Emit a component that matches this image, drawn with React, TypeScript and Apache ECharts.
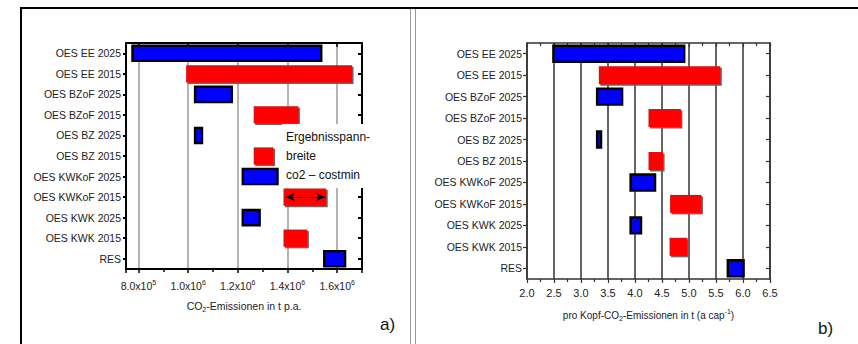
import React, { useEffect, useRef } from 'react';
import * as echarts from 'echarts';

const categories = [
  'OES EE 2025',
  'OES EE 2015',
  'OES BZoF 2025',
  'OES BZoF 2015',
  'OES BZ 2025',
  'OES BZ 2015',
  'OES KWKoF 2025',
  'OES KWKoF 2015',
  'OES KWK 2025',
  'OES KWK 2015',
  'RES',
];

// a) total CO2 emissions, t p.a. (range low..high)
const totalLow = [772000, 992000, 1024000, 1264000, 1024000, 1264000, 1216000, 1384000, 1216000, 1384000, 1544000];
const totalHigh = [1540000, 1660000, 1180000, 1444000, 1060000, 1344000, 1364000, 1556000, 1292000, 1480000, 1636000];

// b) per-capita CO2 emissions, t (a cap^-1)
const perCapLow = [2.47, 3.33, 3.28, 4.25, 3.28, 4.25, 3.9, 4.65, 3.9, 4.64, 5.7];
const perCapHigh = [4.93, 5.58, 3.78, 4.85, 3.39, 4.52, 4.39, 5.23, 4.13, 4.97, 6.03];

// annotation arrow (range width) in panel a)
const arrowCategory = 'OES KWKoF 2015';
const arrowFrom = 1392000;
const arrowTo = 1552000;

const annotationLines = ['Ergebnisspann-', 'breite', 'co2 \u2013 costmin'];

const SANS = "'Liberation Sans', Arial, sans-serif";

const renderBar = (params: any, api: any) => {
  const idx = api.value(0);
  const lo = api.coord([api.value(1), idx]);
  const hi = api.coord([api.value(2), idx]);
  const h = api.size([0, 1])[1] * 0.84;
  const red = categories[idx].includes('2015');
  const x = lo[0];
  const w = hi[0] - lo[0];
  const y = lo[1] - h / 2;
  if (red) {
    return {
      type: 'group',
      children: [
        { type: 'rect', shape: { x: x + 1.5, y: y + 1.5, width: w, height: h }, style: { fill: '#666' } },
        { type: 'rect', shape: { x, y, width: w, height: h }, style: { fill: '#ff0000' } },
      ],
    };
  }
  return {
    type: 'rect',
    shape: { x: x + 1, y: y + 1, width: w - 2, height: h - 2 },
    style: { fill: '#0000ff', stroke: '#000', lineWidth: 2.4 },
  };
};

const sciLabel = (v: number) => {
  if (Math.abs(v % 200000) > 1e-6) return '';
  const exp = Math.floor(Math.log10(v) + 1e-9);
  const m = v / Math.pow(10, exp);
  return `${m.toFixed(1)}x10{sup|${exp}}`;
};

export default function App() {
  const ref = useRef<HTMLDivElement>(null);
  useEffect(() => {
    document.body.style.margin = '0';
    const chart = echarts.init(ref.current!, null, { renderer: 'svg' });
    const leftData = categories.map((_, i) => [i, totalLow[i], totalHigh[i]]);
    const rightData = categories.map((_, i) => [i, perCapLow[i], perCapHigh[i]]);
    const labelStyle = { fontFamily: SANS, fontSize: 10.5, color: '#222' };
    const richSup = {
      sup: { fontFamily: SANS, fontSize: 7, color: '#222', verticalAlign: 'top', lineHeight: 7 },
      sub: { fontFamily: SANS, fontSize: 7, color: '#222', verticalAlign: 'bottom', lineHeight: 7 },
    };
    const blackLine = { show: true, onZero: false, lineStyle: { color: '#000', width: 2 } };
    const grayLine = { show: true, onZero: false, lineStyle: { color: '#333', width: 1.5 } };

    chart.setOption({
      animation: false,
      grid: [
        { left: 126, top: 43, width: 236, height: 226 },
        { left: 527, top: 43, width: 243, height: 236 },
      ],
      xAxis: [
        {
          gridIndex: 0, type: 'value', min: 750000, max: 1700000, position: 'bottom',
          axisLine: blackLine,
          axisTick: { show: true, inside: false, length: 4, lineStyle: { color: '#000', width: 1.5 } },
          minorTick: { show: true, splitNumber: 2, length: 3, lineStyle: { color: '#000', width: 1.5 } },
          splitLine: { show: true, lineStyle: { color: '#b4b4b4', width: 2 } },
          axisLabel: { ...labelStyle, margin: 10, lineHeight: 14, formatter: sciLabel, rich: richSup, showMinLabel: true, showMaxLabel: true },
          name: 'CO{sub|2}-Emissionen in t p.a.', nameLocation: 'middle', nameGap: 30,
          nameTextStyle: { ...labelStyle, fontSize: 10.5, lineHeight: 14, rich: richSup },
        },
        {
          gridIndex: 0, type: 'value', min: 750000, max: 1700000, position: 'top',
          axisLine: blackLine,
          axisTick: { show: true, inside: true, length: 4, lineStyle: { color: '#000', width: 1.5 } },
          axisLabel: { show: false }, splitLine: { show: false },
        },
        {
          gridIndex: 1, type: 'value', min: 2, max: 6.5, interval: 0.5, position: 'bottom',
          axisLine: grayLine,
          axisTick: { show: true, inside: false, length: 4, lineStyle: { color: '#333', width: 1.2 } },
          minorTick: { show: true, splitNumber: 2, length: 3, lineStyle: { color: '#333', width: 1.2 } },
          splitLine: { show: true, lineStyle: { color: '#666', width: 2 } },
          axisLabel: { ...labelStyle, fontSize: 11, margin: 8, formatter: (v: number) => v.toFixed(1) },
          name: 'pro Kopf-CO{sub|2}-Emissionen in t (a cap{sup|-1})', nameLocation: 'middle', nameGap: 29,
          nameTextStyle: { ...labelStyle, fontSize: 10, lineHeight: 14, rich: richSup },
        },
        {
          gridIndex: 1, type: 'value', min: 2, max: 6.5, interval: 0.5, position: 'top',
          axisLine: grayLine,
          axisTick: { show: true, inside: true, length: 4, lineStyle: { color: '#333', width: 1.2 } },
          minorTick: { show: true, splitNumber: 2, length: 3, lineStyle: { color: '#333', width: 1.2 } },
          axisLabel: { show: false }, splitLine: { show: false },
        },
      ],
      yAxis: [
        {
          gridIndex: 0, type: 'category', data: categories, inverse: true, position: 'left',
          axisLine: blackLine,
          axisTick: { show: true, alignWithLabel: true, inside: false, length: 3, lineStyle: { color: '#000', width: 2 } },
          axisLabel: { ...labelStyle, margin: 5 },
          splitLine: { show: false },
        },
        {
          gridIndex: 0, type: 'category', data: categories, inverse: true, position: 'right',
          axisLine: blackLine,
          axisTick: { show: true, alignWithLabel: true, inside: true, length: 4, lineStyle: { color: '#000', width: 2 } },
          axisLabel: { show: false }, splitLine: { show: false },
        },
        {
          gridIndex: 1, type: 'category', data: categories, inverse: true, position: 'left',
          axisLine: grayLine,
          axisTick: { show: true, alignWithLabel: true, inside: false, length: 4, lineStyle: { color: '#333', width: 1.2 } },
          axisLabel: { ...labelStyle, margin: 5 },
          splitLine: { show: false },
        },
        {
          gridIndex: 1, type: 'category', data: categories, inverse: true, position: 'right',
          axisLine: grayLine,
          axisTick: { show: true, alignWithLabel: true, inside: true, length: 4, lineStyle: { color: '#333', width: 1.2 } },
          axisLabel: { show: false }, splitLine: { show: false },
        },
      ],
      series: [
        {
          type: 'custom', xAxisIndex: 0, yAxisIndex: 0, data: leftData,
          encode: { x: [1, 2], y: 0 }, renderItem: renderBar, z: 3,
          markLine: {
            silent: true, symbol: ['arrow', 'arrow'], symbolSize: [6, 9],
            label: { show: false },
            lineStyle: { color: '#000', width: 1, type: 'solid' },
            data: [[{ coord: [arrowFrom, arrowCategory] }, { coord: [arrowTo, arrowCategory] }]],
          },
        },
        {
          type: 'custom', xAxisIndex: 2, yAxisIndex: 2, data: rightData,
          encode: { x: [1, 2], y: 0 }, renderItem: renderBar, z: 3,
        },
      ],
      graphic: [
        { type: 'line', z: 100, shape: { x1: 21, y1: 8, x2: 21, y2: 344 }, style: { stroke: '#000', lineWidth: 2 } },
        { type: 'line', z: 100, shape: { x1: 20, y1: 8, x2: 858, y2: 8 }, style: { stroke: '#000', lineWidth: 2 } },
        { type: 'line', z: 100, shape: { x1: 410.5, y1: 9, x2: 410.5, y2: 344 }, style: { stroke: '#999', lineWidth: 1 } },
        { type: 'line', z: 100, shape: { x1: 415.5, y1: 9, x2: 415.5, y2: 344 }, style: { stroke: '#999', lineWidth: 1 } },
        { type: 'rect', z: 100, shape: { x: 282, y: 124, width: 92, height: 64 }, style: { fill: '#fff' } },
        ...annotationLines.map((t, i) => ({
          type: 'text', z: 101, x: 286, y: 137 + i * 19,
          style: { text: t, fontFamily: SANS, fontSize: 12, fill: '#111', verticalAlign: 'middle' },
        })),
        { type: 'text', z: 101, x: 380, y: 324, style: { text: 'a)', fontFamily: SANS, fontSize: 17, fill: '#111', verticalAlign: 'middle' } },
        { type: 'text', z: 101, x: 818, y: 328, style: { text: 'b)', fontFamily: SANS, fontSize: 17, fill: '#111', verticalAlign: 'middle' } },
      ],
    });
    return () => chart.dispose();
  }, []);
  return <div ref={ref} style={{ width: 858, height: 344, background: '#fff' }} />;
}
